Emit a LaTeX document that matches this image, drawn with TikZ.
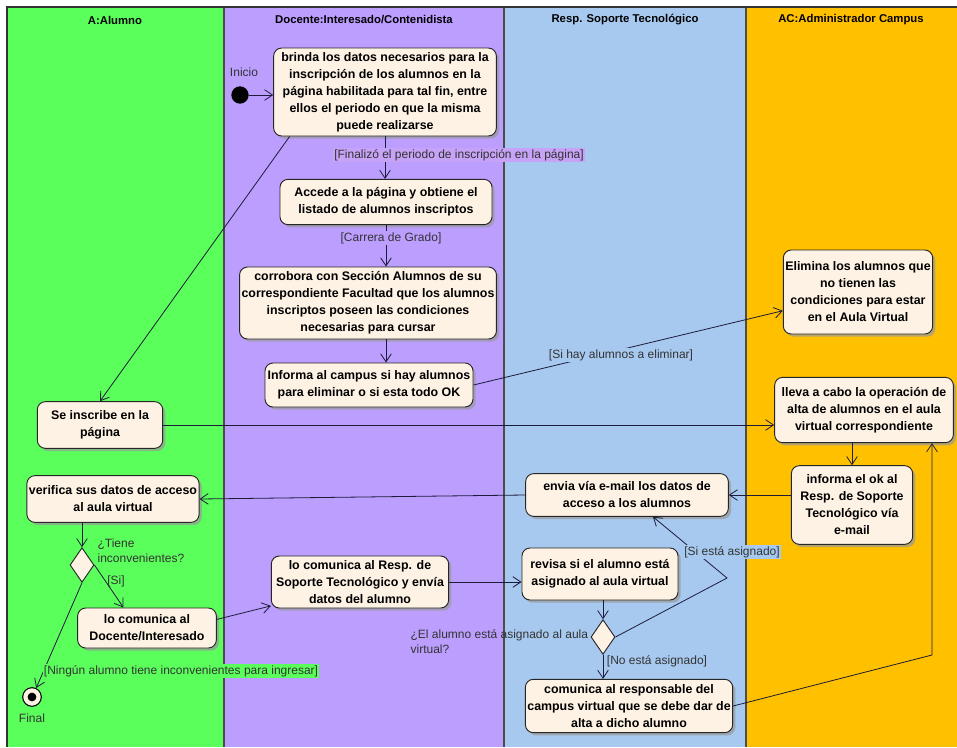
\documentclass[tikz,border=0pt]{standalone}
\usepackage{fontspec}
\setmainfont{Liberation Sans}
\usetikzlibrary{arrows.meta,shapes.geometric,shadows}
\definecolor{alumnoGreen}{HTML}{5BFF5B}
\definecolor{docentePurple}{HTML}{BC9EFF}
\definecolor{soporteBlue}{HTML}{A7C9EF}
\definecolor{campusOrange}{HTML}{FFC000}
\definecolor{guardPurple}{HTML}{C6A3F6}
\definecolor{actFill}{HTML}{FDF2E4}
\definecolor{lineInk}{HTML}{1C1C3A}
\begin{document}
\begin{tikzpicture}[x=0.75pt,y=-0.75pt,
  act/.style={draw=black!85,fill=actFill,rounded corners=6pt,align=center,
    inner sep=1.5pt,line width=0.7pt,
    font=\fontsize{9.3}{12.75}\selectfont\bfseries,
    drop shadow={shadow xshift=2pt,shadow yshift=-2pt,fill=black!40,opacity=.7}},
  choice/.style={diamond,draw=black!85,fill=actFill,inner sep=0pt,
    minimum width=18pt,minimum height=26pt,line width=0.7pt},
  guard/.style={font=\fontsize{9}{11}\selectfont,inner sep=1pt,text=black!80},
  flow/.style={draw=lineInk,line width=0.6pt,-{Straight Barb[length=6pt,width=8pt]}},
  lanetitle/.style={font=\fontsize{8.5}{10}\selectfont\bfseries}]
  \useasboundingbox (0,0) rectangle (957,747);
  \foreach \xa/\xb/\lanecol in {7/224/alumnoGreen,224/504/docentePurple,504/746/soporteBlue,746/957/campusOrange}
    \fill[\lanecol] (\xa,7) rectangle (\xb,747);
  \foreach \xa in {224,504,746}
    \draw[black!70,line width=0.8pt] (\xa,7) -- (\xa,747);
  \draw[black!80,line width=0.8pt] (7,747) -- (7,7) -- (957,7);
  \node[lanetitle] (tAlumno) at (115,20) {A:Alumno};
  \node[lanetitle] (tDocente) at (364,20) {Docente:Interesado/Contenidista};
  \node[lanetitle] (tSoporte) at (625,20) {Resp. Soporte Tecnológico};
  \node[lanetitle] (tCampus) at (851,20) {AC:Administrador Campus};

  \node[fill=black,circle,minimum size=13pt,inner sep=0pt] (inicio) at (240,95) {};
  \node[guard] (inicioLbl) at (244,72) {Inicio};
  \node[act,minimum width=167pt,minimum height=66pt] (brinda) at (385,92) {brinda los datos necesarios para la\\inscripción de los alumnos en la\\página habilitada para tal fin, entre\\ellos el periodo en que la misma\\puede realizarse};
  \node[act,minimum width=159pt,minimum height=34pt] (accede) at (386,202) {Accede a la página y obtiene el\\listado de alumnos inscriptos};
  \node[act,minimum width=191pt,minimum height=54pt] (corrobora) at (368,303) {corrobora con Sección Alumnos de su\\correspondiente Facultad que los alumnos\\inscriptos poseen las condiciones\\necesarias para cursar};
  \node[act,minimum width=156pt,minimum height=33pt] (informa) at (369,385) {Informa al campus si hay alumnos\\para eliminar o si esta todo OK};
  \node[act,minimum width=111pt,minimum height=63pt] (elimina) at (858,292) {Elimina los alumnos que\\no tienen las\\condiciones para estar\\en el Aula Virtual};
  \node[act,minimum width=134pt,minimum height=49pt] (lleva) at (864,410) {lleva a cabo la operación de\\alta de alumnos en el aula\\virtual correspondiente};
  \node[act,minimum width=94pt,minimum height=35pt] (inscribe) at (100,425) {Se inscribe en la\\página};
  \node[act,minimum width=91pt,minimum height=59pt] (okmail) at (852,505) {informa el ok al\\Resp. de Soporte\\Tecnológico vía\\e-mail};
  \node[act,minimum width=152pt,minimum height=32pt] (envia) at (627,495) {envia vía e-mail los datos de\\acceso a los alumnos};
  \node[act,minimum width=127pt,minimum height=35pt] (verifica) at (113,499) {verifica sus datos de acceso\\al aula virtual};
  \node[choice] (tiene) at (82,565) {};
  \node[guard,align=left,anchor=west] (tieneLbl) at (96,551) {¿Tiene\\inconvenientes?};
  \node[act,minimum width=104pt,minimum height=30pt] (comdoc) at (147,628) {lo comunica al\\Docente/Interesado};
  \node[act,minimum width=133pt,minimum height=39pt] (comresp) at (360,582) {lo comunica al Resp. de\\Soporte Tecnológico y envía\\datos del alumno};
  \node[act,minimum width=117pt,minimum height=39pt] (revisa) at (600,574) {revisa si el alumno está\\asignado al aula virtual};
  \node[choice] (asignado) at (603,637) {};
  \node[guard,align=left,anchor=north west] (asignadoLbl) at (409,628) {¿El alumno está asignado al aula\\virtual?};
  \node[act,minimum width=155pt,minimum height=40pt] (comcamp) at (629,706) {comunica al responsable del\\campus virtual que se debe dar de\\alta a dicho alumno};
  \node[circle,draw=black,fill=actFill,minimum size=14pt,inner sep=0pt,line width=0.8pt] (final) at (32,697) {};
  \fill[black] (final.center) circle (3.3pt);
  \node[guard] (finalLbl) at (32,718) {Final};

  \coordinate (siBend) at (727,578);
  \coordinate (altaBend) at (932,655);
  \draw[flow] (inicio) -- (brinda.west |- inicio);
  \draw[flow] (brinda.south) -- (brinda.south |- accede.north);
  \draw[flow] (brinda.205) -- (inscribe.north);
  \draw[flow] (accede.south) -- (accede.south |- corrobora.north);
  \draw[flow] (accede.south |- corrobora.south) -- (accede.south |- informa.north);
  \draw[flow] (informa.east) -- (elimina.194);
  \draw[flow] (inscribe.east) -- (inscribe.east -| lleva.west);
  \draw[flow] (okmail.north |- lleva.south) -- (okmail.north);
  \draw[flow] (okmail.west |- envia.east) -- (envia.east);
  \draw[flow] (envia.west) -- (verifica.east);
  \draw[flow] (tiene.north |- verifica.south) -- (tiene.north);
  \draw[flow] (tiene.east) -- (comdoc.139);
  \draw[flow] (tiene.south) -- (final.65);
  \draw[flow] (comdoc.7) -- (comresp.195);
  \draw[flow] (comresp.east) -- (comresp.east -| revisa.west);
  \draw[flow] (revisa.south -| asignado.north) -- (asignado.north);
  \draw[flow] (asignado.east) -- (siBend) -- (envia.-40);
  \draw[flow] (asignado.south) -- (asignado.south |- comcamp.north);
  \draw[flow] (comcamp.east) -- (altaBend) -- (altaBend |- lleva.south);

  \node[guard,fill=guardPurple] (finalizoLbl) at (459,155) {[Finalizó el periodo de inscripción en la página]};
  \node[guard,fill=docentePurple] (carreraLbl) at (391,238) {[Carrera de Grado]};
  \node[guard,fill=soporteBlue] (eliminarLbl) at (621,355) {[Si hay alumnos a eliminar]};
  \node[guard] (siLbl) at (116,581) {[Si]};
  \node[guard,fill=alumnoGreen] (ningunLbl) at (181,671) {[Ningún alumno tiene inconvenientes para ingresar]};
  \node[guard,fill=soporteBlue] (siAsigLbl) at (732,552) {[Si está asignado]};
  \node[guard] (noAsigLbl) at (657,661) {[No está asignado]};
\end{tikzpicture}
\end{document}
